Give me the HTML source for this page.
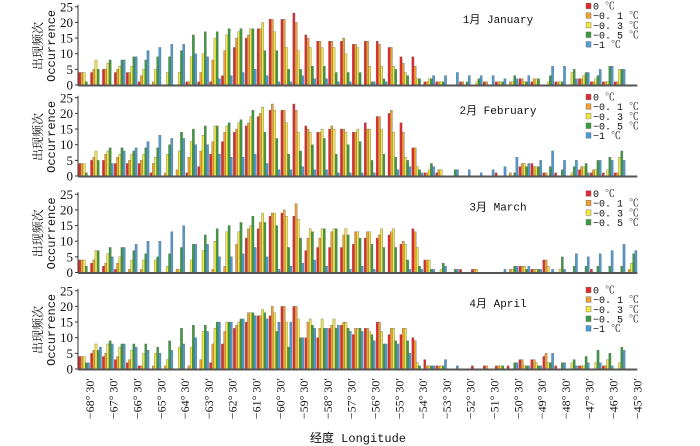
<!DOCTYPE html>
<html><head><meta charset="utf-8"><style>
html,body{margin:0;padding:0;background:#fff;}
svg{display:block;font-family:"Liberation Serif","Noto Serif CJK SC",serif;}
</style></head><body>
<svg id="chart" width="700" height="446" viewBox="0 0 700 446"></svg>
<script>
const seriesNames = ["0 ℃","−0. 1 ℃","−0. 3 ℃","−0. 5 ℃","−1 ℃"];
const seriesColors = ["#e5262a","#f0a02e","#f2e640","#3b9a3e","#4a9bd6"];
const months = ["1月 January","2月 February","3月 March","4月 April"];
const legendCounts = [5,5,4,5];
const yTicks = [0,5,10,15,20,25];
const xTickLabels = ["−68° 30′","−67° 30′","−66° 30′","−65° 30′","−64° 30′","−63° 30′","−62° 30′","−61° 30′","−60° 30′","−59° 30′","−58° 30′","−57° 30′","−56° 30′","−55° 30′","−54° 30′","−53° 30′","−52° 30′","−51° 30′","−50° 30′","−49° 30′","−48° 30′","−47° 30′","−46° 30′","−45° 30′"];
// each row: one longitude bin (30'), values for [0, -0.1, -0.3, -0.5, -1]
const jan = [[4,4,4,1,0],[4,5,8,5,0],[5,5,7,8,0],[4,5,6,8,8],[4,4,6,9,9],[1,3,5,8,11],[0,1,5,9,12],[0,0,4,9,13],[0,0,4,11,13],[1,1,9,16,10],[1,4,10,17,9],[1,8,15,17,2],[3,11,16,18,3],[12,15,17,18,4],[15,16,18,18,5],[18,18,20,11,3],[21,21,17,11,1],[21,21,12,5,1],[23,20,11,5,3],[16,15,12,6,2],[14,14,12,6,2],[14,14,12,4,1],[14,15,10,4,1],[13,13,12,4,0],[14,14,6,1,1],[14,13,6,2,1],[12,12,6,5,0],[9,7,4,3,0],[9,6,2,2,0],[1,1,2,2,3],[1,1,1,1,3],[0,0,0,0,4],[1,1,0,1,3],[0,0,1,2,3],[1,1,0,0,3],[1,1,1,1,2],[0,1,1,3,2],[2,2,1,1,3],[1,2,2,2,0],[0,0,1,3,6],[1,1,1,1,6],[0,0,4,5,2],[2,2,3,4,4],[1,1,2,3,5],[1,1,1,6,6],[1,1,5,5,5],[0,0,0,0,0]];
const feb = [[4,4,4,1,0],[5,6,8,5,0],[5,7,8,9,4],[4,6,7,9,8],[4,5,7,8,9],[4,5,7,9,11],[1,4,6,9,13],[0,1,7,10,12],[0,2,8,14,12],[1,6,11,15,10],[3,8,13,16,10],[7,11,16,16,7],[11,14,16,17,6],[14,15,17,18,6],[16,17,19,21,7],[19,20,22,14,4],[21,23,21,12,2],[21,21,17,7,2],[23,21,14,8,3],[16,15,14,10,2],[14,14,15,12,2],[15,16,15,7,1],[15,15,14,10,1],[14,14,15,11,1],[17,15,15,5,1],[19,19,15,7,0],[20,21,14,6,2],[17,14,6,5,3],[9,9,3,2,1],[1,1,2,4,3],[1,2,2,0,0],[0,0,0,2,2],[0,0,0,0,2],[0,0,0,0,1],[0,0,0,0,2],[1,0,0,0,3],[0,1,0,1,6],[3,4,4,3,4],[4,3,3,3,5],[1,1,0,3,8],[1,0,0,2,5],[0,0,1,3,5],[2,3,3,4,1],[1,2,2,5,5],[1,0,2,6,5],[1,1,6,8,5],[0,0,0,0,0]];
const mar = [[4,4,4,2,0],[3,4,7,7,0],[2,3,6,8,5],[1,3,5,8,8],[0,1,4,7,9],[0,1,4,6,10],[0,0,4,5,10],[0,0,2,6,13],[0,1,1,8,15],[0,0,4,9,9],[0,0,7,12,9],[0,1,10,14,5],[0,2,13,15,5],[0,9,13,16,6],[11,14,15,18,8],[14,16,19,16,5],[18,19,19,15,1],[19,20,18,8,2],[18,22,17,11,3],[7,11,14,13,4],[8,11,14,14,2],[8,13,14,14,0],[8,12,14,12,1],[9,13,13,11,2],[11,13,13,9,1],[11,12,14,8,0],[12,13,14,8,0],[9,10,9,4,1],[14,13,8,2,1],[4,4,4,1,1],[0,0,1,3,2],[0,0,0,1,1],[1,0,0,0,0],[1,1,1,0,0],[0,0,0,0,0],[0,0,0,0,1],[0,1,1,2,2],[2,2,2,1,2],[1,1,1,1,1],[4,4,2,0,1],[0,0,1,5,1],[0,0,0,2,6],[0,0,0,2,5],[1,0,0,2,6],[0,0,0,2,7],[0,0,0,2,9],[0,1,3,6,7]];
const apr = [[4,4,4,2,2],[5,6,8,6,7],[4,5,8,9,8],[3,4,7,8,8],[2,3,6,8,7],[1,1,5,8,6],[0,1,5,7,5],[0,1,3,9,6],[0,0,7,13,8],[0,1,7,14,10],[0,3,12,14,12],[2,8,13,15,15],[8,12,15,15,15],[13,14,15,16,16],[15,18,18,18,17],[17,17,19,18,16],[17,20,18,12,15],[20,20,15,7,15],[20,20,16,10,10],[10,15,16,14,13],[10,13,16,13,13],[13,14,16,13,14],[14,15,15,13,12],[11,13,13,13,12],[13,13,12,11,9],[15,15,12,8,8],[11,13,13,9,8],[11,13,13,9,5],[10,9,2,1,0],[3,1,1,1,1],[1,1,1,1,3],[0,0,0,0,1],[0,0,0,0,0],[1,0,0,0,0],[1,1,0,0,0],[1,1,1,1,0],[1,0,0,2,2],[3,3,1,1,1],[3,3,2,1,1],[4,5,2,2,5],[1,0,0,2,2],[0,0,2,3,1],[1,1,1,4,2],[0,0,2,6,2],[1,1,3,5,1],[0,0,2,7,6],[0,0,0,0,0]];
const panelsData = [jan,feb,mar,apr];

const NS="http://www.w3.org/2000/svg";
const svg=document.getElementById('chart');
function mk(tag,attrs,parent){const e=document.createElementNS(NS,tag);for(const k in attrs)e.setAttribute(k,attrs[k]);(parent||svg).appendChild(e);return e;}
const X0=78, NB=47, BW=11.9, YMAX=25;
const baselines=[85,176,272.5,369], unitPx=3.13;
function xBin(i){return X0+i*BW;}
function yVal(p,v){return baselines[p]-v*unitPx;}

panelsData.forEach((data,p)=>{
  const g=mk('g',{});
  
  
  const base=baselines[p];
  data.forEach((vals,i)=>{
    vals.forEach((v,s)=>{
      if(v<=0)return;
      const r=mk('rect',{x:xBin(i)+0.6+s*2.2,y:yVal(p,v),width:2.2,height:base-yVal(p,v),fill:seriesColors[s],stroke:'#666','stroke-width':0.35},g);
      
      
    });
  });
  const ya=mk('line',{x1:X0,y1:yVal(p,YMAX)-2,x2:X0,y2:base,stroke:'#333','stroke-width':1},g);
  
  
  const xa=mk('line',{x1:X0,y1:base+0.5,x2:xBin(NB),y2:base+0.5,stroke:'#555','stroke-width':2},g);
  
  
  yTicks.forEach(t=>{
    mk('line',{x1:X0-3,x2:X0,y1:yVal(p,t),y2:yVal(p,t),stroke:'#333','stroke-width':1},g);
    const tx=mk('text',{x:X0-5,y:yVal(p,t)+4.5,'text-anchor':'end','font-size':13,fill:'#111'},g);
    tx.textContent=t;
    
    
  });
  const midY=(base+yVal(p,YMAX))/2;
  const yl1=mk('text',{x:0,y:0,transform:'translate(42,'+midY+') rotate(-90)','text-anchor':'middle','font-size':12,fill:'#111'},g);
  yl1.textContent='出现频次';
  
  
  const yl2=mk('text',{x:0,y:0,transform:'translate(55,'+midY+') rotate(-90)','text-anchor':'middle','font-size':12,fill:'#111','font-family':'Liberation Mono, monospace'},g);
  yl2.textContent='Occurrence';
  
  
  const tt=mk('text',{x:498,y:base-62,'text-anchor':'middle','font-size':11,fill:'#111','font-family':'Liberation Mono, Noto Sans CJK SC, monospace'},g);
  tt.textContent=months[p];
  tt.style.whiteSpace='pre';
  
  
  const lc0=yVal(p,YMAX)-0.8;
  for(let s=0;s<legendCounts[p];s++){
    const lc=lc0+s*9.6;
    const lr=mk('rect',{x:586,y:lc-2.8,width:5,height:5.6,fill:seriesColors[s],stroke:'#666','stroke-width':0.4},g);
    
    
    const lt=mk('text',{x:593,y:lc+3.6,'font-size':10,fill:'#111','font-family':'Liberation Mono, Noto Serif CJK SC, monospace'},g);
    lt.textContent=seriesNames[s];
    lt.style.whiteSpace='pre';
    
    
  }
});
xTickLabels.forEach((lab,k)=>{
  const x=xBin(1+2*k);
  const t=mk('text',{x:0,y:0,transform:'translate('+(x+4)+',378) rotate(-90)','text-anchor':'end','font-size':12,fill:'#111'});
  t.textContent=lab;
  t.style.whiteSpace='pre';
  
  
});
const xt=mk('text',{x:358,y:442,'text-anchor':'middle','font-size':12,fill:'#111','font-family':'Liberation Mono, Noto Sans CJK SC, monospace'});
xt.textContent='经度 Longitude';


</script>
</body></html>
